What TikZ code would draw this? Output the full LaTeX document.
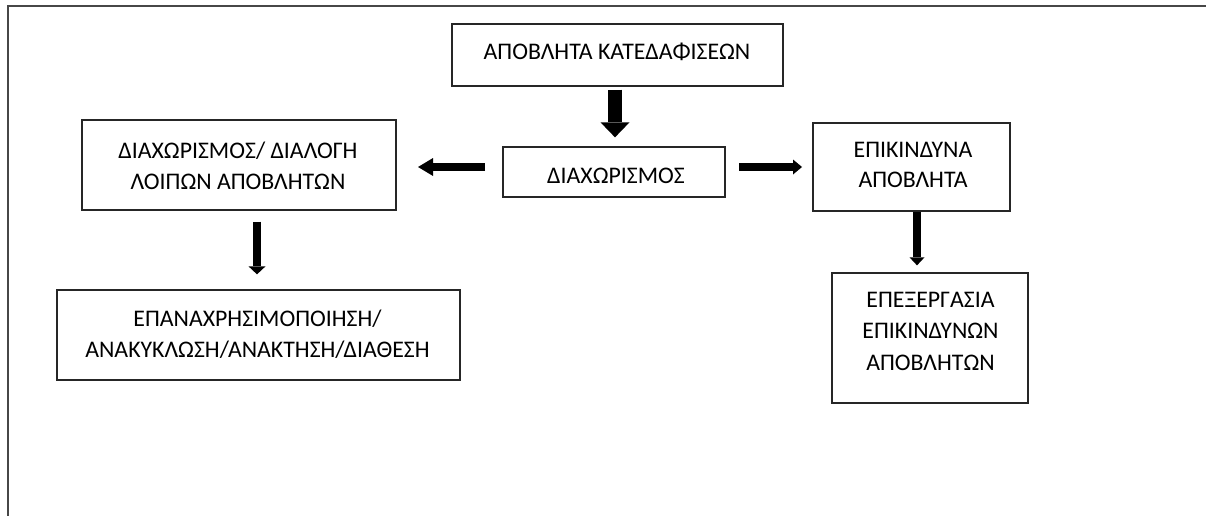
\documentclass[tikz,border=0pt]{standalone}
\usepackage{fontspec}
\setmainfont{Carlito}
\usetikzlibrary{arrows.meta}
\begin{document}
\begin{tikzpicture}[x=1pt,y=-1pt,
  frame/.style={draw=black!72,line width=2pt},
  box/.style={draw=black!85,line width=1.3pt,inner sep=0pt},
  txt/.style={anchor=north,inner sep=0pt,align=center,
    font=\fontsize{23.8}{30.5}\selectfont},
  blk/.style={line width=8pt,
    -{Triangle[width=#1,length=8pt,line width=0pt]}},
  blk/.default=17pt]
\useasboundingbox (0,0) rectangle (1206,516);

% page frame (top and left edges)
\draw[frame] (7.5,516) -- (7.5,6.5) -- (1206,6.5);

% boxes
\node[box,minimum width=331pt,minimum height=62pt] (top) at (617.5,55) {};
\node[box,minimum width=222pt,minimum height=50pt] (mid) at (614,172) {};
\node[box,minimum width=314pt,minimum height=90pt] (left) at (239,165) {};
\node[box,minimum width=197pt,minimum height=88pt] (right) at (911.5,167) {};
\node[box,minimum width=403pt,minimum height=90pt] (reuse) at (258.5,335) {};
\node[box,minimum width=196pt,minimum height=130pt] (treat) at (930,338) {};

% labels
\node[txt] (ttop) at (617,43) {ΑΠΟΒΛΗΤΑ ΚΑΤΕΔΑΦΙΣΕΩΝ};
\node[txt] (tmid) at (616,168) {ΔΙΑΧΩΡΙΣΜΟΣ};
\node[txt] (tleft) at (238,142) {ΔΙΑΧΩΡΙΣΜΟΣ/ ΔΙΑΛΟΓΗ\\ΛΟΙΠΩΝ ΑΠΟΒΛΗΤΩΝ};
\node[txt] (tright) at (913,142) {ΕΠΙΚΙΝΔΥΝΑ\\ΑΠΟΒΛΗΤΑ};
\node[txt] (treuse) at (257.5,310) {ΕΠΑΝΑΧΡΗΣΙΜΟΠΟΙΗΣΗ/\\ΑΝΑΚΥΚΛΩΣΗ/ΑΝΑΚΤΗΣΗ/ΔΙΑΘΕΣΗ};
\node[txt,font=\fontsize{23.8}{31.5}\selectfont] (ttreat) at (930.5,292)
  {ΕΠΕΞΕΡΓΑΣΙΑ\\ΕΠΙΚΙΝΔΥΝΩΝ\\ΑΠΟΒΛΗΤΩΝ};

% block arrows
\draw[line width=14pt,-{Triangle[width=29pt,length=15pt,line width=0pt]}]
  ([yshift=-3pt]top.south -| 615,0) -- ([yshift=9pt]mid.north -| 615,0);
\coordinate (lfrom) at (485,167);
\coordinate (lto) at (418,167);
\draw[line width=8pt,-{Triangle[width=18pt,length=15pt,line width=0pt]}]
  (lfrom) -- (lto);
\coordinate (rfrom) at (739,167);
\coordinate (rto) at (802,167);
\draw[line width=8pt,-{Triangle[width=15pt,length=9pt,line width=0pt]}]
  (rfrom) -- (rto);
\draw[blk] ([yshift=-11pt]left.south -| 257,0) -- ([yshift=15pt]reuse.north -| 257,0);
\draw[blk=15pt] (right.south -| 917,0) -- ([yshift=7pt]treat.north -| 917,0);
\end{tikzpicture}
\end{document}
